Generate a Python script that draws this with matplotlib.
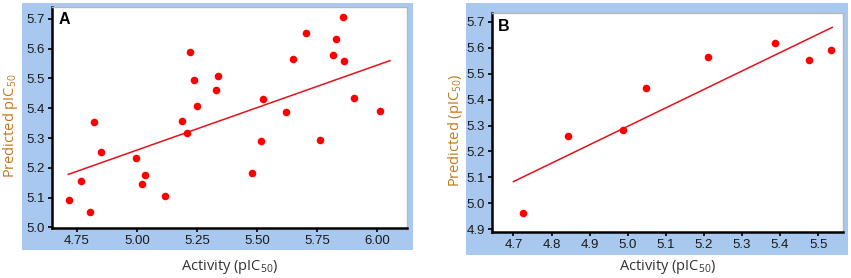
import numpy as np
import matplotlib
matplotlib.use('Agg')
import matplotlib.pyplot as plt

plt.rcParams['font.family'] = ['Liberation Sans', 'DejaVu Sans']
plt.rcParams['mathtext.default'] = 'regular'

# panel A (training set)
act_a = [5.221, 5.239, 5.338, 5.328, 5.250, 4.820, 5.187, 5.856, 5.703, 5.828,
         5.648, 5.817, 5.863, 5.523, 5.902, 5.619, 6.010, 5.209, 4.850, 4.996,
         4.767, 5.032, 5.021, 4.716, 5.118, 4.803, 5.516, 5.762, 5.479]
pred_a = [5.590, 5.496, 5.509, 5.460, 5.408, 5.353, 5.356, 5.707, 5.652, 5.633,
          5.567, 5.578, 5.558, 5.432, 5.435, 5.388, 5.392, 5.317, 5.252, 5.232,
          5.157, 5.175, 5.146, 5.091, 5.106, 5.052, 5.289, 5.293, 5.181]
fit_x_a = [4.714, 6.053]
fit_y_a = [5.178, 5.560]
xticks_a = [4.75, 5.00, 5.25, 5.50, 5.75, 6.00]
yticks_a = [5.0, 5.1, 5.2, 5.3, 5.4, 5.5, 5.6, 5.7]

# panel B (test set)
act_b = [4.724, 4.843, 4.988, 5.048, 5.211, 5.387, 5.476, 5.535]
pred_b = [4.964, 5.260, 5.281, 5.444, 5.564, 5.617, 5.551, 5.590]
fit_x_b = [4.700, 5.537]
fit_y_b = [5.084, 5.678]
xticks_b = [4.7, 4.8, 4.9, 5.0, 5.1, 5.2, 5.3, 5.4, 5.5]
yticks_b = [4.9, 5.0, 5.1, 5.2, 5.3, 5.4, 5.5, 5.6, 5.7]

W, H = 851, 278
fig = plt.figure(figsize=(W / 100, H / 100), dpi=100)
fig.patch.set_facecolor('white')

blue = '#a8c8ef'
ylab_col = '#c0781e'


def px_rect(x0, y0, x1, y1):
    # pixel box (top-left origin) -> figure fraction rect
    return [x0 / W, (H - y1) / H, (x1 - x0) / W, (y1 - y0) / H]


def panel(bg_box, ax_box, x, y, fx, fy, xt, yt, xfmt, yfmt, xlim, ylim,
          tag, ylabel, ylab_x, ylab_y, xlab_y):
    bg = fig.add_axes(px_rect(*bg_box))
    bg.set_facecolor(blue)
    bg.set_xticks([]); bg.set_yticks([])
    for s in bg.spines.values():
        s.set_visible(False)

    ax = fig.add_axes(px_rect(*ax_box))
    ax.set_facecolor('white')
    ax.scatter(x, y, s=30, color='#ff0000', zorder=3, linewidths=0)
    ax.plot(fx, fy, color='#e8101a', lw=1.1, zorder=2)
    ax.set_xlim(*xlim); ax.set_ylim(*ylim)
    ax.set_xticks(xt)
    ax.set_xticklabels([xfmt.format(v) for v in xt])
    ax.set_yticks(yt)
    ax.set_yticklabels([yfmt.format(v) for v in yt])
    ax.tick_params(length=3, width=1.2, labelsize=9.5, pad=2,
                   colors='black', labelcolor='#1a1a1a')
    for s in ['left', 'bottom']:
        ax.spines[s].set_linewidth(1.8)
        ax.spines[s].set_color('black')
    for s in ['top', 'right']:
        ax.spines[s].set_linewidth(1.0)
        ax.spines[s].set_color('#b8b8b8')
    ax.text(0.018, 0.975, tag, transform=ax.transAxes, fontsize=11.5,
            fontweight='bold', va='top', ha='left')

    cx = (ax_box[0] + ax_box[2]) / 2
    fig.text(cx / W, 1 - xlab_y / H, r'Activity (pIC$_{50}$)', ha='center',
             va='center', fontsize=10.5, color='#333333', family='Open Sans')
    fig.text(ylab_x / W, 1 - ylab_y / H, ylabel, ha='center', va='center',
             rotation=90, fontsize=10.5, color=ylab_col, family='Open Sans')
    return ax


panel((22, 3, 413, 250), (51.7, 6.7, 407.3, 228.3), act_a, pred_a,
      fit_x_a, fit_y_a, xticks_a, yticks_a, '{:.2f}', '{:.1f}',
      (4.645, 6.125), (4.997, 5.741), 'A', r'Predicted pIC$_{50}$',
      11, 126, 267)

panel((466, 3, 848, 255), (491.7, 13.3, 843.3, 232), act_b, pred_b,
      fit_x_b, fit_y_b, xticks_b, yticks_b, '{:.1f}', '{:.1f}',
      (4.643, 5.566), (4.890, 5.732), 'B', r'Predicted (pIC$_{50}$)',
      455, 130, 267)

fig.savefig('out.png', dpi=100)
